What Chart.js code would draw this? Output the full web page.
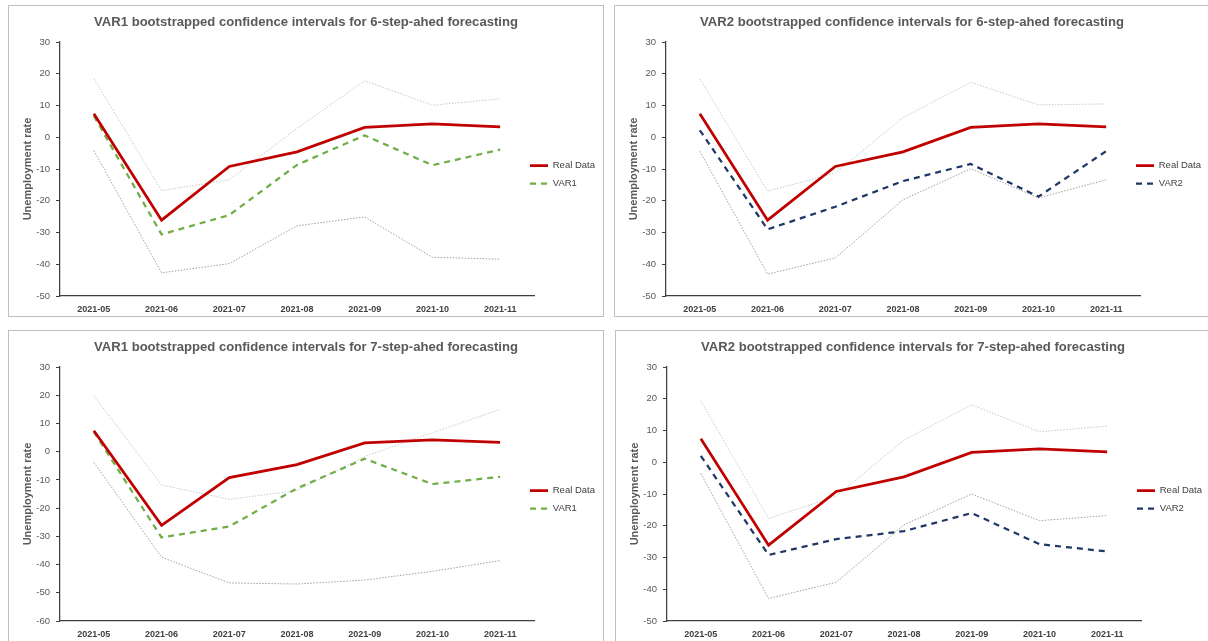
<!DOCTYPE html>
<html>
<head>
<meta charset="utf-8">
<script src="https://cdn.jsdelivr.net/npm/chart.js@4.4.1/dist/chart.umd.min.js"></script>
<style>
  html, body { margin: 0; padding: 0; background: #ffffff; width: 1208px; height: 641px; overflow: hidden; }
  .panel { position: absolute; border: 1px solid #bfbfbf; background: #fff; overflow: hidden; }
  .panel canvas { display: block; }
</style>
</head>
<body>
<div class="panel" style="left:8px;top:5px;width:594px;height:310px;"><canvas id="c1" width="594" height="310"></canvas></div>
<div class="panel" style="left:614px;top:5px;width:600px;height:310px;"><canvas id="c2" width="594" height="310"></canvas></div>
<div class="panel" style="left:8px;top:330px;width:594px;height:320px;"><canvas id="c3" width="594" height="310"></canvas></div>
<div class="panel" style="left:615px;top:330px;width:600px;height:320px;"><canvas id="c4" width="594" height="310"></canvas></div>
<script>
// ---- data ----
const months = ["2021-05", "2021-06", "2021-07", "2021-08", "2021-09", "2021-10", "2021-11"];
const realData = [7.4, -26.1, -9.2, -4.6, 3.1, 4.2, 3.3];

const var1Step6 = [6.7, -30.6, -24.5, -8.7, 0.6, -8.8, -3.9];
const var1Step6Upper = [18.5, -16.8, -13.4, 2.8, 17.8, 10.1, 12.1];
const var1Step6Lower = [-4.2, -42.7, -39.8, -27.9, -25.1, -37.8, -38.4];

const var2Step6 = [2.2, -29.0, -21.9, -13.8, -8.4, -18.7, -4.4];
const var2Step6Upper = [18.4, -17.0, -11.3, 6.2, 17.3, 10.2, 10.5];
const var2Step6Lower = [-4.4, -43.1, -38.0, -19.7, -9.9, -19.1, -13.4];

const var1Step7 = [7.0, -30.4, -26.5, -13.0, -2.5, -11.5, -8.9];
const var1Step7Upper = [19.8, -11.8, -16.9, -13.8, -1.7, 6.7, 15.0];
const var1Step7Lower = [-3.8, -37.4, -46.5, -46.9, -45.5, -42.4, -38.6];

const var2Step7 = [2.0, -29.2, -24.2, -21.7, -16.0, -25.8, -28.1];
const var2Step7Upper = [19.3, -17.7, -10.7, 7.0, 18.1, 9.6, 11.4];
const var2Step7Lower = [-3.6, -42.9, -37.8, -19.7, -10.0, -18.4, -16.8];

const titles = [
  "VAR1 bootstrapped confidence intervals for 6-step-ahed forecasting",
  "VAR2 bootstrapped confidence intervals for 6-step-ahed forecasting",
  "VAR1 bootstrapped confidence intervals for 7-step-ahed forecasting",
  "VAR2 bootstrapped confidence intervals for 7-step-ahed forecasting"
];
const yAxisTitle = "Unemployment rate";

// ---- styling ----
const FONT = "'Liberation Sans', 'DejaVu Sans', sans-serif";
const RED = "#c00000", GREEN = "#70ad47", NAVY = "#1f3864";

const placer = {
  id: "placer",
  afterLayout(chart) {
    const lg = chart.legend, ca = chart.chartArea;
    if (lg && ca) {
      const pad = lg.options.labels.padding;
      const fs = lg.options.labels.font.size;
      const w = lg.width, h = lg.height;
      lg.left = ca.right - 4 - pad;
      lg.right = lg.left + w;
      const mid = (ca.top + ca.bottom) / 2;
      lg.top = mid - 3.5 - pad - fs / 2;
      lg.bottom = lg.top + h;
    }
    const tb = chart.titleBlock;
    if (tb) { tb.left = 0; tb.right = chart.width; tb.width = chart.width; }
  }
};

function makeChart(id, title, varLabel, varColor, varData, upper, lower, yMin) {
  new Chart(document.getElementById(id), {
    type: "line",
    data: {
      labels: months,
      datasets: [
        { label: "Upper", data: upper, borderColor: "#c8c8c8", borderWidth: 1, borderDash: [1.5, 1.5], pointRadius: 0, tension: 0, order: 3 },
        { label: "Lower", data: lower, borderColor: "#a0a0a0", borderWidth: 1, borderDash: [1.5, 1.5], pointRadius: 0, tension: 0, order: 3 },
        { label: varLabel, data: varData, borderColor: varColor, backgroundColor: varColor, borderWidth: 2.25, borderDash: [6, 5], pointRadius: 0, tension: 0, order: 2 },
        { label: "Real Data", data: realData, borderColor: RED, backgroundColor: RED, borderWidth: 2.75, pointRadius: 0, tension: 0, order: 1 }
      ]
    },
    options: {
      responsive: false,
      animation: false,
      layout: { padding: { left: 0, right: 69, top: 0, bottom: 0 } },
      plugins: {
        title: {
          display: true, text: title, color: "#595959",
          font: { family: FONT, size: 13.1, weight: "bold" },
          padding: { top: 9, bottom: 11.3 }
        },
        legend: {
          display: true, position: "chartArea", align: "start",
          labels: {
            color: "#404040", font: { family: FONT, size: 9.5 },
            usePointStyle: true, pointStyle: "line", pointStyleWidth: 18,
            boxHeight: 9.5, padding: 8.5,
            generateLabels: (chart) => {
              const items = Chart.defaults.plugins.legend.labels.generateLabels(chart);
              items.forEach((it) => {
                const ds = chart.data.datasets[it.datasetIndex];
                it.lineDash = ds.borderDash || [];
                it.lineWidth = ds.borderWidth;
                it.strokeStyle = ds.borderColor;
              });
              return items;
            },
            filter: (item) => item.text === "Real Data" || item.text === varLabel,
            sort: (a, b) => (a.text === "Real Data" ? -1 : (b.text === "Real Data" ? 1 : 0))
          }
        },
        tooltip: { enabled: false }
      },
      scales: {
        x: {
          offset: true,
          grid: { display: false, drawTicks: false },
          border: { display: true, color: "#404040", width: 1.25 },
          ticks: { color: "#404040", font: { family: FONT, size: 9, weight: "bold" }, padding: 8, maxRotation: 0 },
          afterFit: (s) => { s.height = 20; }
        },
        y: {
          min: yMin, max: 30,
          ticks: { stepSize: 10, color: "#595959", font: { family: FONT, size: 9.5 }, padding: 6 },
          grid: { display: true, drawOnChartArea: false, drawTicks: true, tickLength: 4, color: "#404040" },
          border: { display: true, color: "#404040", width: 1.25 },
          title: { display: true, text: yAxisTitle, color: "#595959", font: { family: FONT, size: 11, weight: "bold" }, padding: { top: 12, bottom: 0 } },
          afterFit: (s) => { s.width = 51; }
        }
      }
    },
    plugins: [placer]
  });
}

makeChart("c1", titles[0], "VAR1", GREEN, var1Step6, var1Step6Upper, var1Step6Lower, -50);
makeChart("c2", titles[1], "VAR2", NAVY, var2Step6, var2Step6Upper, var2Step6Lower, -50);
makeChart("c3", titles[2], "VAR1", GREEN, var1Step7, var1Step7Upper, var1Step7Lower, -60);
makeChart("c4", titles[3], "VAR2", NAVY, var2Step7, var2Step7Upper, var2Step7Lower, -50);
</script>
</body>
</html>
